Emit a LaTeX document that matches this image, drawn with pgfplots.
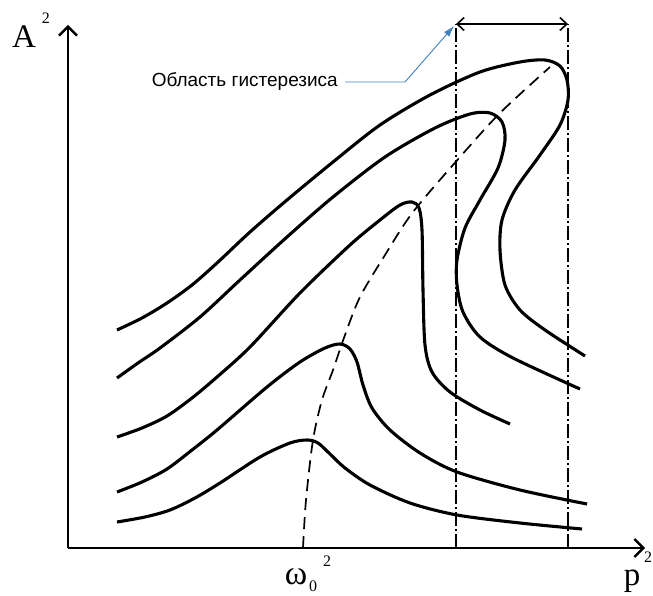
\documentclass[border=0pt]{standalone}
\usepackage{fontspec}
\setmainfont{Liberation Serif}
\newfontfamily\arial{Liberation Sans}
\usepackage{pgfplots}
\pgfplotsset{compat=1.18}
\usetikzlibrary{arrows.meta}
\definecolor{annblue}{RGB}{68,128,190}
\begin{document}
\begin{tikzpicture}
\begin{axis}[
  x=1pt, y=1pt,
  xmin=68, xmax=645, ymin=47, ymax=570,
  axis x line=bottom, axis y line=left,
  axis line style={line width=2.4pt, -{Straight Barb[length=9pt,width=18pt,line width=2.4pt]}},
  xtick=\empty, ytick=\empty,
  clip=false,
]
% curve 1
\addplot[black, line width=3.1pt, smooth] coordinates {
(117,73)(145,78)(170,85)(195,97)(220,112)(260,138)(290,152)(307,155)(318,152)(330,141)(345,127)(370,110)(410,92)(457,80)(520,72)(582,66)};
% curve 2
\addplot[black, line width=3.1pt, smooth] coordinates {
(117,103)(142,113)(167,126)(192,145)(217,165)(267,208)(300,233)(325,247)(340,251)(350,246)(357,233)(363,210)(372,187)(390,165)(420,142)(457,123)(520,105)(587,91)};
% curve 3
\addplot[black, line width=3.1pt, smooth] coordinates {
(117,158)(142,167)(167,179)(192,197)(217,218)(250,248)(300,302)(350,350)(380,375)(400,390)(412,393)(419,387)(422,365)(423,305)(425,250)(432,223)(450,203)(480,185)(510,171)};
% curve 4
\addplot[black, line width=3.1pt, smooth] coordinates {
(117,217)(138,232)(160,247)(200,278)(240,315)(287,358)(333,398)(385,438)(435,467)(470,481)(490,482)(502,473)(505,455)(498,427)(480,395)(465,367)(457,335)(457,310)(463,283)(480,258)(513,237)(580,206)};
% curve 5
\addplot[black, line width=3.1pt, smooth] coordinates {
(117,265)(142,277)(167,292)(192,310)(217,332)(250,363)(287,395)(333,433)(380,470)(430,500)(480,523)(520,533)(545,535)(560,529)(567,515)(568,495)(560,470)(540,440)(515,405)(502,375)(500,345)(505,310)(520,285)(545,265)(585,239)};
% backbone
\addplot[black, line width=1.7pt, smooth, dash pattern=on 12pt off 7pt] coordinates {
(303,47)(306,95)(313,155)(322,195)(333,225)(345,260)(360,298)(385,340)(413,383)(460,438)(500,482)(550,528)};
% hysteresis boundaries
\addplot[black, line width=1.6pt, dash pattern=on 14pt off 3pt on 2pt off 3pt] coordinates {(456,47)(456,571)};
\addplot[black, line width=1.6pt, dash pattern=on 14pt off 3pt on 2pt off 3pt] coordinates {(568,47)(568,571)};
\addplot[black, line width=1.6pt, {Straight Barb[length=7pt,width=13pt]}-{Straight Barb[length=7pt,width=13pt]}] coordinates {(456,571)(568,571)};
% annotation
\draw[annblue, line width=0.9pt, -{Latex[length=11pt,width=7pt]}] (axis cs:345,513) -- (axis cs:405,513) -- (axis cs:454,569);
\node[anchor=east, font=\arial\fontsize{19}{21}\selectfont, inner sep=0pt] at (axis cs:338,513) {Область гистерезиса};
% labels
\node[font=\fontsize{33}{36}\selectfont, inner sep=0pt, anchor=base] at (axis cs:24,547) {A};
\node[font=\fontsize{16}{18}\selectfont, inner sep=0pt, anchor=base] at (axis cs:46,571) {2};
\node[font=\fontsize{34}{36}\selectfont, inner sep=0pt, anchor=base] at (axis cs:296,11) {ω};
\node[font=\fontsize{16}{18}\selectfont, inner sep=0pt, anchor=base] at (axis cs:313,4) {0};
\node[font=\fontsize{16}{18}\selectfont, inner sep=0pt, anchor=base] at (axis cs:327,29) {2};
\node[font=\fontsize{33}{36}\selectfont, inner sep=0pt, anchor=base] at (axis cs:632,10) {p};
\node[font=\fontsize{16}{18}\selectfont, inner sep=0pt, anchor=base] at (axis cs:648,33) {2};
\coordinate (bl) at (axis cs:0,0);
\coordinate (tr) at (axis cs:653,595);
\end{axis}
\pgfresetboundingbox
\path (bl) rectangle (tr);
\end{tikzpicture}
\end{document}
